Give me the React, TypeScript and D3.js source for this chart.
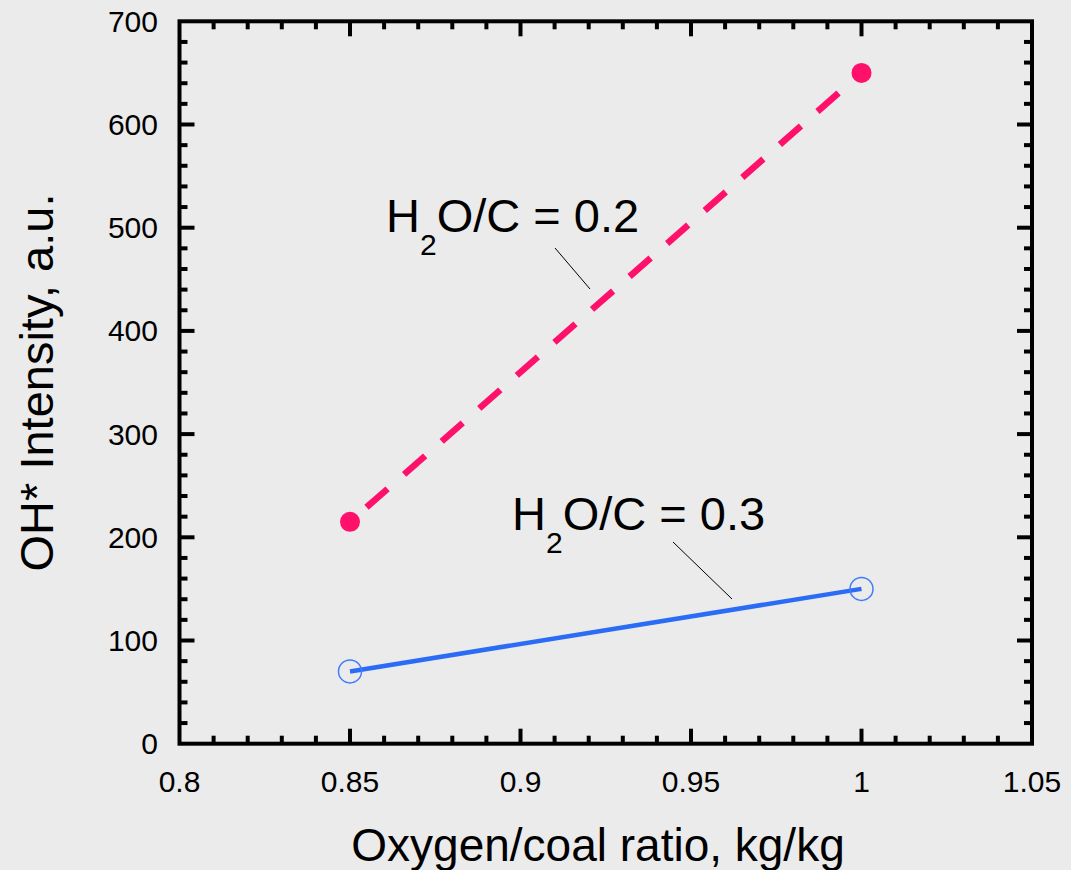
import React from "react";
import * as d3 from "d3";

const W = 1071;
const H = 870;

const xTicks = [0.8, 0.85, 0.9, 0.95, 1, 1.05];
const xTickLabels = ["0.8", "0.85", "0.9", "0.95", "1", "1.05"];
const yTicks = [0, 100, 200, 300, 400, 500, 600, 700];

const ratioX = [0.85, 1.0];
const seriesH2O02 = [215, 650];
const seriesH2O03 = [70, 150];

const margin = { left: 179.5, right: W - 1032, top: 21.3, bottom: H - 743.7 };

export default function App() {
  const x = d3.scaleLinear().domain([0.8, 1.05]).range([margin.left, W - margin.right]);
  const y = d3.scaleLinear().domain([0, 700]).range([H - margin.bottom, margin.top]);
  const x0 = x.range()[0], x1 = x.range()[1];
  const y0 = y.range()[0], y1 = y.range()[1];

  const xMinor = d3.range(0, 26).map((i) => 0.8 + i * 0.01).filter((v) => Math.abs(Math.round(v * 20) - v * 20) > 1e-6);
  const yMinor = d3.range(0, 36).map((i) => i * 20).filter((v) => v % 100 !== 0);

  const line = d3.line<number>().x((_, i) => x(ratioX[i])).y((d) => y(d));
  const tickColor = "#000";
  const sw = 4;
  const major = 15;
  const minor = 8;
  const font = "Liberation Sans, Arial, sans-serif";

  return (
    <svg width={W} height={H} style={{ position: "absolute", left: 0, top: 0, background: "#ebebeb" }} fontFamily={font}>
      <rect x={0} y={0} width={W} height={H} fill="#ebebeb" />
      {/* ticks */}
      <g stroke={tickColor} strokeWidth={sw}>
        {xTicks.slice(1, -1).map((t) => (
          <g key={"xm" + t}>
            <line x1={x(t)} x2={x(t)} y1={y0} y2={y0 - major} />
            <line x1={x(t)} x2={x(t)} y1={y1} y2={y1 + major} />
          </g>
        ))}
        {xMinor.map((t) => (
          <g key={"xn" + t}>
            <line x1={x(t)} x2={x(t)} y1={y0} y2={y0 - minor} />
            <line x1={x(t)} x2={x(t)} y1={y1} y2={y1 + minor} />
          </g>
        ))}
        {yTicks.slice(1, -1).map((t) => (
          <g key={"ym" + t}>
            <line x1={x0} x2={x0 + major} y1={y(t)} y2={y(t)} />
            <line x1={x1} x2={x1 - major} y1={y(t)} y2={y(t)} />
          </g>
        ))}
        {yMinor.map((t) => (
          <g key={"yn" + t}>
            <line x1={x0} x2={x0 + minor} y1={y(t)} y2={y(t)} />
            <line x1={x1} x2={x1 - minor} y1={y(t)} y2={y(t)} />
          </g>
        ))}
      </g>
      <rect x={x0} y={y1} width={x1 - x0} height={y0 - y1} fill="none" stroke="#000" strokeWidth={sw} />
      {/* tick labels */}
      <g fontSize={30} fill="#000">
        {xTicks.map((t, i) => (
          <text key={"xl" + t} x={x(t)} y={792} textAnchor="middle">{xTickLabels[i]}</text>
        ))}
        {yTicks.map((t) => (
          <text key={"yl" + t} x={158} y={y(t) + 10.5} textAnchor="end">{t}</text>
        ))}
      </g>
      {/* axis titles */}
      <text x={598} y={861} fontSize={46} textAnchor="middle" fill="#000">Oxygen/coal ratio, kg/kg</text>
      <text transform={`translate(53,${(y0 + y1) / 2}) rotate(-90)`} fontSize={47} textAnchor="middle" fill="#000">OH* Intensity, a.u.</text>
      {/* series */}
      <path d={line(seriesH2O02) || ""} fill="none" stroke="#ff106a" strokeWidth={6.5} strokeDasharray="28,22" strokeDashoffset={28} />
      {seriesH2O02.map((v, i) => (
        <circle key={"p" + i} cx={x(ratioX[i])} cy={y(v)} r={10} fill="#ff106a" />
      ))}
      <path d={line(seriesH2O03) || ""} fill="none" stroke="#2a6cf5" strokeWidth={4.5} />
      {seriesH2O03.map((v, i) => (
        <circle key={"b" + i} cx={x(ratioX[i])} cy={y(v)} r={11.5} fill="none" stroke="#3d7cff" strokeWidth={1.5} />
      ))}
      {/* annotations */}
      <text x={386} y={232} fontSize={47} fill="#000">
        H<tspan fontSize={30} dy={23}>2</tspan><tspan dy={-23}>O/C = 0.2</tspan>
      </text>
      <line x1={555} y1={248} x2={590} y2={289} stroke="#000" strokeWidth={1} />
      <text x={512} y={530} fontSize={47} fill="#000">
        H<tspan fontSize={30} dy={23}>2</tspan><tspan dy={-23}>O/C = 0.3</tspan>
      </text>
      <line x1={673} y1={542} x2={732} y2={599} stroke="#000" strokeWidth={1} />
    </svg>
  );
}
